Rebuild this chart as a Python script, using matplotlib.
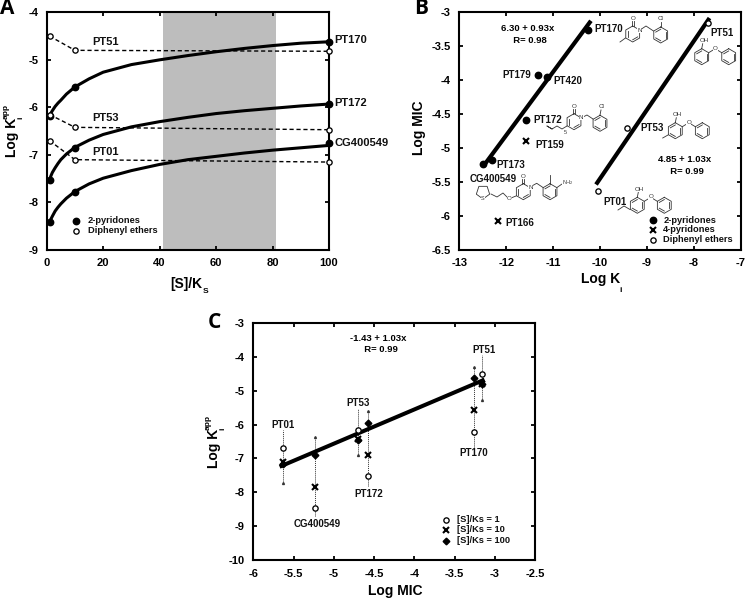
import numpy as np
import matplotlib
matplotlib.use('Agg')
import matplotlib.pyplot as plt
from matplotlib.lines import Line2D

plt.rcParams['font.family'] = ['Liberation Sans', 'DejaVu Sans']
plt.rcParams['mathtext.fontset'] = 'custom'
plt.rcParams['mathtext.rm'] = 'Liberation Sans'
plt.rcParams['axes.unicode_minus'] = False

W, H = 745, 598

# panel A, curves
ratio = [1, 1.5, 2, 3, 4, 5, 7, 10, 15, 20, 30, 40, 50, 60, 70, 80, 90, 100]
pt170_curve = [-6.18, -6.12, -6.07, -5.98, -5.91, -5.85, -5.72, -5.57, -5.40, -5.26, -5.10, -5.00, -4.91, -4.83, -4.76, -4.70, -4.65, -4.62]
pt172_curve = [-7.52, -7.44, -7.37, -7.27, -7.18, -7.10, -6.98, -6.84, -6.69, -6.57, -6.41, -6.30, -6.21, -6.13, -6.07, -6.02, -5.97, -5.93]
cg_curve = [-8.42, -8.35, -8.29, -8.18, -8.10, -8.03, -7.91, -7.77, -7.61, -7.49, -7.33, -7.20, -7.10, -7.03, -6.96, -6.90, -6.85, -6.80]

ratio_pts = [1, 10, 100]
pt170_pts = [-6.18, -5.57, -4.62]
pt172_pts = [-7.53, -6.85, -5.92]
cg_pts = [-8.42, -7.78, -6.75]
pt51_pts = [-4.50, -4.80, -4.82]
pt53_pts = [-6.15, -6.42, -6.47]
pt01_pts = [-6.70, -7.10, -7.15]

# panel B
pyr2_ki = [-10.25, -11.33, -11.13, -11.58, -12.31, -12.50]
pyr2_mic = [-3.26, -3.92, -3.96, -4.58, -5.17, -5.23]
pyr4_ki = [-11.58, -12.18]
pyr4_mic = [-4.89, -6.08]
ether_ki = [-7.70, -9.42, -10.04]
ether_mic = [-3.16, -4.70, -5.63]
fit1_ki = [-12.47, -10.22]
fit1_mic = [-5.25, -3.15]
fit2_ki = [-10.06, -7.69]
fit2_mic = [-5.51, -3.11]

# panel C
mic = [-5.63, -5.23, -4.70, -4.58, -3.26, -3.16]
ki_1 = [-6.70, -8.47, -6.15, -7.53, -6.21, -4.50]
ki_10 = [-7.10, -7.83, -6.42, -6.89, -5.57, -4.80]
ki_100 = [-7.17, -6.89, -6.47, -5.95, -4.62, -4.82]
fit3_mic = [-5.65, -3.15]
fit3_ki = [-7.22, -4.70]
guide_low = [-7.71, -8.70, -6.90, -7.81, -6.65, -5.28]
guide_high = [-6.15, -6.36, -5.55, -5.60, -4.30, -3.95]
tip_ki = [-7.71, -6.36, -6.90, -5.60, -4.30, -5.28]

FILLED = dict(marker='o', color='black', ms=4.6, ls='none')
OPEN = dict(marker='o', mfc='white', mec='black', mew=0.95, ms=3.8, ls='none')
CROSS = dict(marker='x', color='black', ms=4.8, mew=1.5, ls='none')
DIAMOND = dict(marker='D', color='black', ms=3.4, ls='none')


def make_axes(fig, left, right, top, bottom):
    ax = fig.add_axes([left / W, 1 - bottom / H, (right - left) / W, (bottom - top) / H])
    for s in ax.spines.values():
        s.set_linewidth(1.5)
    ax.tick_params(which='both', direction='in', top=True, right=True, width=1.3, length=3,
                   labelsize=8, pad=6)
    return ax


def bold_labels(ax):
    for t in ax.get_xticklabels() + ax.get_yticklabels():
        t.set_fontweight('bold')


def note(ax, x, y, s, size=7, **kw):
    ax.text(x, y, s, fontsize=size, fontweight='bold', color='#111111', va='center', **kw)


def panel_letter(x, y, s):
    fig.text(x / W, 1 - y / H, s, fontsize=15, fontweight='bold', family='Open Sans', va='center')


# axis titles go in by hand, the small app / i / S pieces sit apart from the main text
def label_at(x, y, s, size=10, rotation=0):
    fig.text(x / W, 1 - y / H, s, fontsize=size, fontweight='bold', rotation=rotation,
             rotation_mode='anchor', ha='left', va='baseline')


def ki_app_label(x, y):
    label_at(x, y, 'Log K', 10, 90)
    label_at(x - 8, y - 38, 'app', 6, 90)
    label_at(x + 6, y - 38, 'i', 6, 90)


# small line drawings of the compounds in panel B, all in picture pixels
def stroke(pts):
    xs = [p[0] / W for p in pts]
    ys = [1 - p[1] / H for p in pts]
    fig.add_artist(Line2D(xs, ys, transform=fig.transFigure, color='#333333', lw=0.6, zorder=5))


def ring(cx, cy, r=8, n=6, start=90):
    ang = np.radians(start + np.arange(n + 1) * 360 / n)
    stroke(list(zip(cx + r * np.cos(ang), cy - r * np.sin(ang))))


def inner_bonds(cx, cy, steps, r=8):
    for k in steps:
        a1, a2 = np.radians(90 + k * 60), np.radians(150 + k * 60)
        stroke([(cx + 0.72 * r * np.cos(a1), cy - 0.72 * r * np.sin(a1)),
                (cx + 0.72 * r * np.cos(a2), cy - 0.72 * r * np.sin(a2))])


def atom(x, y, s, size=4.5):
    fig.text(x / W, 1 - y / H, s, fontsize=size, color='#333333', ha='center', va='center',
             zorder=6, bbox=dict(fc='white', ec='none', pad=0.2))


def phenyl(cx, cy):
    ring(cx, cy)
    inner_bonds(cx, cy, (0, 2, 4))


def pyridone(cx, cy):
    ring(cx, cy)
    inner_bonds(cx, cy, (1, 3))
    stroke([(cx - 1, cy - 8), (cx - 1, cy - 13)])
    stroke([(cx + 1, cy - 8), (cx + 1, cy - 13)])
    atom(cx, cy - 15.5, 'O')
    atom(cx + 7, cy - 4, 'N')


def diphenyl_ether(cx, cy):
    phenyl(cx, cy)
    phenyl(cx + 27, cy)
    stroke([(cx + 7, cy - 4), (cx + 13.5, cy - 8), (cx + 20, cy - 4)])
    stroke([(cx, cy - 8), (cx + 1, cy - 13)])
    atom(cx + 13.5, cy - 8.5, 'O')
    atom(cx + 2.5, cy - 16, 'OH')


fig = plt.figure(figsize=(W / 100, H / 100), dpi=100)

# --- A ---
a = make_axes(fig, 46.7, 329, 12.3, 250)
a.set_xlim(0, 100)
a.set_ylim(-9, -4)
a.axvspan(41.3, 81.2, color='#bdbdbd', lw=0, zorder=0)
for curve in (pt170_curve, pt172_curve, cg_curve):
    a.plot(ratio, curve, color='black', lw=2.2, zorder=3)
for pts in (pt170_pts, pt172_pts, cg_pts):
    a.plot(ratio_pts, pts, clip_on=False, zorder=4, **FILLED)
for pts in (pt51_pts, pt53_pts, pt01_pts):
    a.plot(ratio_pts, pts, color='black', lw=1.0, dashes=(3, 2), zorder=2)
    a.plot(ratio_pts, pts, clip_on=False, zorder=4, **OPEN)
note(a, 16, -4.625, 'PT51', 8)
note(a, 16.3, -6.23, 'PT53', 8)
note(a, 16, -6.94, 'PT01', 8)
note(a, 102, -4.58, 'PT170', 8, clip_on=False)
note(a, 102, -5.91, 'PT172', 8, clip_on=False)
note(a, 102, -6.75, 'CG400549', 8, clip_on=False)
a.plot([10.5], [-8.38], **FILLED)
a.plot([10.5], [-8.59], **OPEN)
note(a, 14.5, -8.38, '2-pyridones', 6.7)
note(a, 14.5, -8.59, 'Diphenyl ethers', 6.7)
a.set_xticks(np.arange(0, 101, 20))
a.set_yticks(np.arange(-9, -3, 1))
bold_labels(a)
label_at(170, 288, '[S]/K')
label_at(202.5, 293, 'S', 6)
ki_app_label(16, 157)

# --- B ---
b = make_axes(fig, 459.3, 740.7, 12.3, 250)
b.set_xlim(-13, -7)
b.set_ylim(-6.5, -3)
b.plot(fit1_ki, fit1_mic, color='black', lw=3.0, zorder=2)
b.plot(fit2_ki, fit2_mic, color='black', lw=3.0, zorder=2)
b.plot(pyr2_ki, pyr2_mic, zorder=3, **FILLED)
b.plot(pyr4_ki, pyr4_mic, zorder=3, **CROSS)
b.plot(ether_ki, ether_mic, zorder=3, **OPEN)
b.text(-11.55, -3.33, '6.30 + 0.93x\n  R= 0.98', fontsize=6.8, fontweight='bold', ha='center', va='center', linespacing=1.4)
b.text(-8.19, -5.26, '4.85 + 1.03x\n  R= 0.99', fontsize=6.8, fontweight='bold', ha='center', va='center', linespacing=1.4)
note(b, -10.11, -3.25, 'PT170')
note(b, -12.09, -3.92, 'PT179')
note(b, -10.99, -4.01, 'PT420')
note(b, -11.42, -4.59, 'PT172')
note(b, -11.37, -4.95, 'PT159')
note(b, -12.20, -5.25, 'PT173')
note(b, -12.79, -5.46, 'CG400549')
note(b, -12.01, -6.10, 'PT166')
note(b, -7.64, -3.31, 'PT51')
note(b, -9.13, -4.71, 'PT53')
note(b, -9.93, -5.79, 'PT01')
b.plot([-8.88], [-6.06], **FILLED)
b.plot([-8.88], [-6.20], **CROSS)
b.plot([-8.88], [-6.35], **OPEN)
note(b, -8.65, -6.06, '2-pyridones', 6.7)
note(b, -8.65, -6.20, '4-pyridones', 6.7)
note(b, -8.65, -6.35, 'Diphenyl ethers', 6.7)
b.set_xticks(np.arange(-13, -6, 1))
b.set_yticks(np.arange(-6.5, -2.9, 0.5))
b.set_yticklabels(['-6.5', '-6', '-5.5', '-5', '-4.5', '-4', '-3.5', '-3'])
bold_labels(b)
label_at(580.7, 283, 'Log K')
label_at(619.5, 292, 'i', 6)
label_at(423, 155, 'Log MIC', 10, 90)

# --- C ---
c = make_axes(fig, 253.3, 535, 322.7, 560.3)
c.set_xlim(-6, -2.5)
c.set_ylim(-10, -3)
c.plot(fit3_mic, fit3_ki, color='black', lw=2.9, zorder=3)
c.plot(mic, ki_1, zorder=4, **OPEN)
c.plot(mic, ki_10, zorder=4, **CROSS)
c.plot(mic, ki_100, zorder=4, **DIAMOND)
c.vlines(mic, guide_low, guide_high, color='#333333', lw=0.7, linestyles=(0, (1, 1)), zorder=1)
c.plot(mic, tip_ki, '^', color='#333333', ms=1.4, ls='none', zorder=1)
note(c, -5.63, -6.01, 'PT01', ha='center')
note(c, -5.21, -8.93, 'CG400549', ha='center')
note(c, -4.70, -5.37, 'PT53', ha='center')
note(c, -4.57, -8.05, 'PT172', ha='center')
note(c, -3.26, -6.85, 'PT170', ha='center')
note(c, -3.13, -3.80, 'PT51', ha='center')
c.text(-4.45, -3.63, '-1.43 + 1.03x\n  R= 0.99', fontsize=6.8, fontweight='bold', ha='center', va='center', linespacing=1.4)
c.plot([-3.61], [-8.81], **OPEN)
c.plot([-3.61], [-9.10], **CROSS)
c.plot([-3.61], [-9.42], **DIAMOND)
note(c, -3.47, -8.81, '[S]/Ks = 1', 6.7)
note(c, -3.47, -9.10, '[S]/Ks = 10', 6.7)
note(c, -3.47, -9.42, '[S]/Ks = 100', 6.7)
c.set_xticks(np.arange(-6, -2.4, 0.5))
c.set_xticklabels(['-6', '-5.5', '-5', '-4.5', '-4', '-3.5', '-3', '-2.5'])
c.set_yticks(np.arange(-10, -2, 1))
bold_labels(c)
label_at(368.3, 595, 'Log MIC')
ki_app_label(218, 468)

# compound drawings
# PT170
pyridone(632.7, 34)
phenyl(660.7, 35)
stroke([(640, 30), (646, 26), (653.5, 31)])
stroke([(661, 27), (661, 22)])
atom(661, 18.5, 'Cl')
stroke([(625.5, 38), (620, 42)])
# PT51, PT53, PT01
diphenyl_ether(701.7, 56.7)
diphenyl_ether(675.3, 130.7)
stroke([(668, 135), (662.7, 138)])
diphenyl_ether(637.3, 205.3)
stroke([(630, 209.5), (624, 206), (618, 210)])
# PT172
pyridone(574, 121.7)
phenyl(600, 123.3)
stroke([(581, 118), (587, 115), (593, 119)])
stroke([(600, 115), (601, 110)])
atom(601.7, 106.7, 'Cl')
stroke([(567, 126), (562, 129), (557, 126), (552, 129), (547, 126), (552, 129)])
atom(565, 133, '5', 4)
# CG400549
pyridone(523.3, 191.7)
phenyl(550, 191.7)
stroke([(530, 187), (536.7, 183.3), (543, 187.5)])
stroke([(550, 183.7), (550, 175)])
stroke([(557, 187.5), (562, 184)])
atom(568, 183, 'NH$_2$', 4)
stroke([(516, 196), (511, 198)])
atom(509.3, 198, 'O')
stroke([(507, 197), (503, 193), (497, 197), (491, 194)])
ring(483, 192, 7, 5, -90)
atom(483, 199, 'S', 4)

panel_letter(0, 9, 'A')
panel_letter(414, 9, 'B')
panel_letter(208, 322, 'C')

fig.savefig('out.png', dpi=100)
